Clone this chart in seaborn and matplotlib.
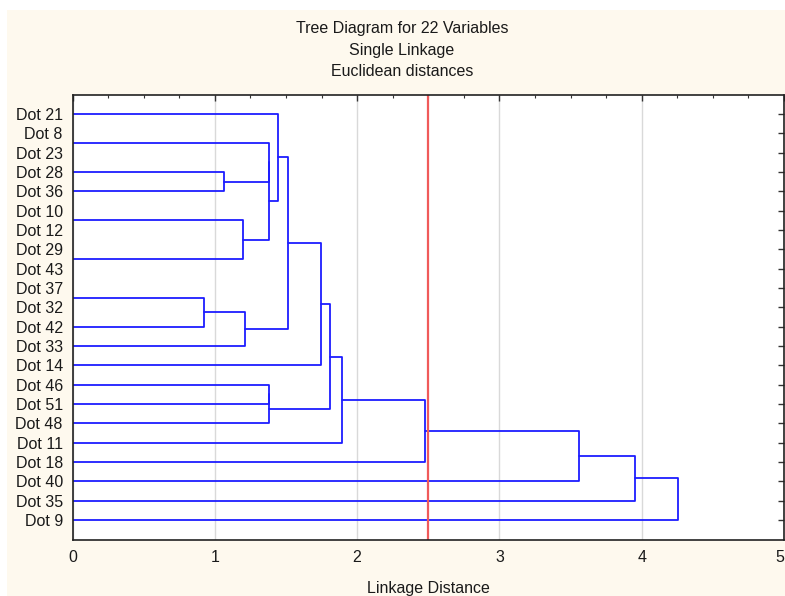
import matplotlib
matplotlib.use("Agg")
import matplotlib.pyplot as plt
import seaborn as sns
import pandas as pd
from matplotlib.patches import Rectangle
from matplotlib.ticker import MultipleLocator

# ---- data ----
labels = ["Dot 21", "Dot 8", "Dot 23", "Dot 28", "Dot 36", "Dot 10", "Dot 12",
          "Dot 29", "Dot 43", "Dot 37", "Dot 32", "Dot 42", "Dot 33", "Dot 14",
          "Dot 46", "Dot 51", "Dot 48", "Dot 11", "Dot 18", "Dot 40", "Dot 35",
          "Dot 9"]
# merges: (cluster a, cluster b, linkage distance); leaves are 0..21, new clusters 22+
merge_a = [1, 5, 7, 9, 25, 3, 23, 26, 22, 30, 14, 32, 0, 34, 35, 36, 37, 38, 39, 40, 41]
merge_b = [2, 6, 8, 10, 11, 4, 24, 12, 27, 28, 15, 16, 31, 29, 13, 33, 17, 18, 19, 20, 21]
merge_d = [0.0, 0.0, 0.0, 0.0, 0.921, 1.062, 1.196, 1.215, 1.379, 1.379, 1.379,
           1.379, 1.445, 1.513, 1.743, 1.813, 1.896, 2.477, 3.560, 3.956, 4.257]
cut_distance = 2.5
x_ticks = [0, 1, 2, 3, 4, 5]
title_lines = ["Tree Diagram for 22 Variables", "Single Linkage", "Euclidean distances"]
x_label = "Linkage Distance"

# ---- build dendrogram segments ----
n = len(labels)
pos = {i: float(i) for i in range(n)}
hgt = {i: 0.0 for i in range(n)}
rows = []
for k, (a, b, d) in enumerate(zip(merge_a, merge_b, merge_d)):
    cid = n + k
    ya, yb = pos[a], pos[b]
    if d > 0:
        for j, (xx, yy) in enumerate([(hgt[a], ya), (d, ya), (d, yb), (hgt[b], yb)]):
            rows.append({"seg": k, "order": j, "dist": xx, "pos": yy})
    pos[cid] = (ya + yb) / 2
    hgt[cid] = d
seg_df = pd.DataFrame(rows)

# ---- figure ----
sns.set_style("white")
plt.rcParams["font.family"] = ["Liberation Sans", "DejaVu Sans"]
W, H = 785, 596
fig = plt.figure(figsize=(W / 100, H / 100), dpi=100)
fig.patch.set_facecolor("white")
fig.patches.append(Rectangle((7 / W, 0), 1 - 7 / W, 1 - 10 / H, transform=fig.transFigure,
                             facecolor="#FEF9EE", edgecolor="none", zorder=-10))

left, right, top, bottom = 72.5, 784, 95, 540
ax = fig.add_axes([left / W, 1 - bottom / H, (right - left) / W, (bottom - top) / H])
ax.set_facecolor("white")

sns.lineplot(data=seg_df, x="dist", y="pos", units="seg", estimator=None, sort=False,
             orient="y", color="#1c1cff", lw=1.3, ax=ax, legend=False, zorder=3)
ax.axvline(cut_distance, color="#f05a5a", lw=1.6, zorder=4)

ax.set_xlim(0, 5)
ax.set_ylim(22.03, -0.98)
ax.set_yticks(range(n))
ax.set_yticklabels(labels)
ax.set_xticks(x_ticks)
ax.set_xticklabels([str(t) for t in x_ticks])
ax.xaxis.set_minor_locator(MultipleLocator(0.25))
ax.grid(axis="x", which="major", color="#d9d9d9", lw=1.0, zorder=0)
ax.set_axisbelow(True)

txt_color = "#1a1a1a"
ax.tick_params(axis="both", which="both", direction="in", top=True, right=True,
               colors="#333333", labelcolor=txt_color, labelsize=11.5)
ax.tick_params(axis="x", which="major", length=4, width=1, pad=7)
ax.tick_params(axis="x", which="minor", length=2, width=0.8)
ax.tick_params(axis="y", which="major", length=4, width=1, pad=7)
# keep the last x tick label ("5") inside the figure edge
ax.get_xticklabels()[-1].set_horizontalalignment("right")
for s in ax.spines.values():
    s.set_visible(True)
    s.set_color("#222222")
    s.set_linewidth(1.2)
    s.set_zorder(5)

ax.set_xlabel(x_label, fontsize=11.5, color=txt_color, labelpad=12)
ax.set_ylabel("")

for i, (line, yy) in enumerate(zip(title_lines, [29, 50, 72])):
    fig.text(402 / W, 1 - yy / H, line, ha="center", va="center", fontsize=11.5, color=txt_color)

fig.savefig("out.png", dpi=100)
